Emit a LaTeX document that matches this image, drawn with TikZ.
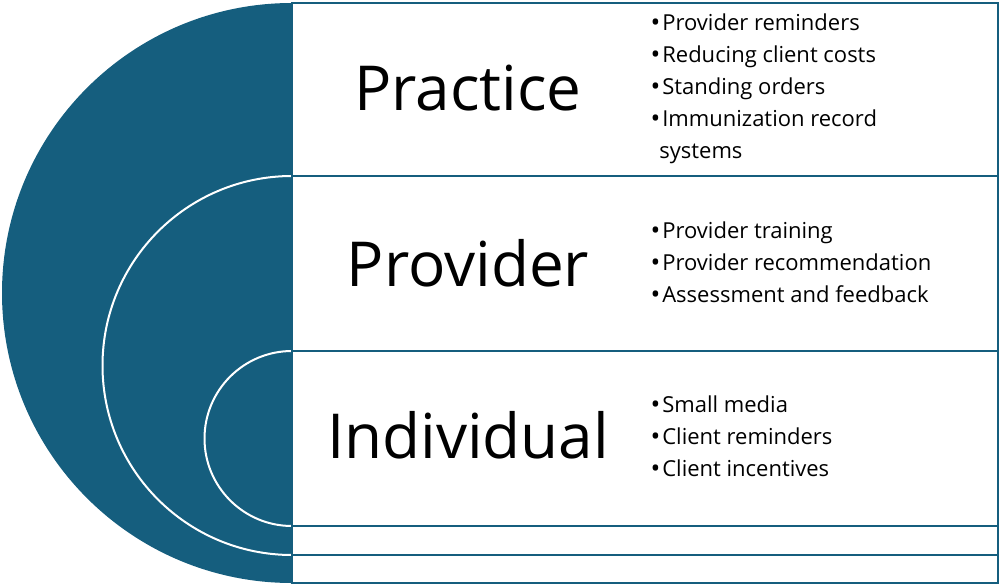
\documentclass[tikz,border=0pt]{standalone}
\usepackage{fontspec}
\setmainfont{Open Sans}
\definecolor{teal}{HTML}{155E7E}
\newcommand{\bul}{{\fontsize{26}{26}\selectfont\raisebox{-1pt}{•}}\hspace{2pt}}
\begin{document}
\begin{tikzpicture}[x=1pt,y=-1pt,
 box/.style={draw=teal,line width=1.2pt,fill=white},
 title/.style={font=\fontsize{62}{62}\selectfont,anchor=center},
 item/.style={font=\fontsize{22}{32}\selectfont,anchor=west,align=left}]
\useasboundingbox (0,0) rectangle (1000,586);
\fill[teal] (292,3) arc[start angle=270,end angle=90,radius=290] -- cycle;
\draw[white,line width=2pt] (292,176) arc[start angle=270,end angle=90,radius=189.5];
\draw[white,line width=2pt] (292,351) arc[start angle=270,end angle=90,radius=87.5];
\draw[box] (292,3) rectangle (998,176);
\draw[box] (292,176) rectangle (998,351);
\draw[box] (292,351) rectangle (998,526);
\draw[box] (292,526) rectangle (998,555);
\draw[box] (292,555) rectangle (998,583);
\node[title] (t1) at (468,88) {Practice};
\node[title] (t2) at (468,263) {Provider};
\node[title] (t3) at (468,435) {Individual};
\node[item] (l1) at (647,89) {\bul Provider reminders\\\bul Reducing client costs\\\bul Standing orders\\\bul Immunization record\\\hspace{0.4em}systems};
\node[item] (l2) at (647,263) {\bul Provider training\\\bul Provider recommendation\\\bul Assessment and feedback};
\node[item] (l3) at (647,437) {\bul Small media\\\bul Client reminders\\\bul Client incentives};
\end{tikzpicture}
\end{document}
